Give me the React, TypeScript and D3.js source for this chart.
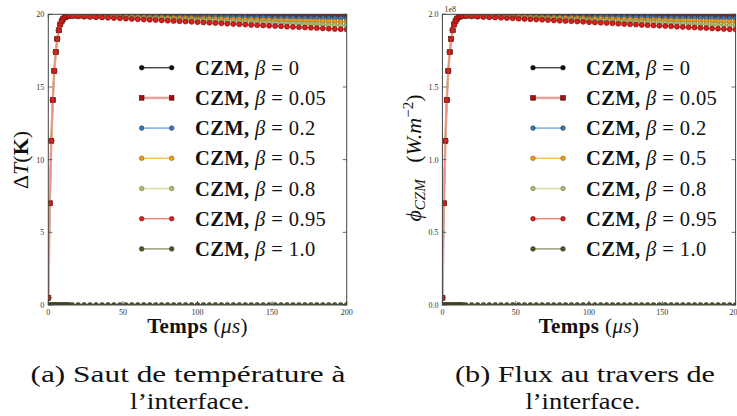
import React from "react";
import * as d3 from "d3";

// ---------- data ----------
const RISE_TIMES = [0, 1, 2, 3, 4, 5, 6, 7, 8, 9, 10, 11, 12, 13, 14];
const DECAY_TIMES = d3.range(16, 201, 4); // 16, 20, ..., 200

// common rising part of ΔT (K)
const RISE = [0.5, 7.0, 11.3, 14.1, 16.1, 17.4, 18.3, 18.9, 19.3, 19.55, 19.7, 19.8, 19.85, 19.88, 19.9];
const RISE_ZERO = [0, 0, 0, 0, 0, 0, 0, 0, 0, 0, 0, 0, 0, 0, 0];

const DECAY_B0 = [
  19.96, 19.96, 19.96, 19.96, 19.96, 19.96, 19.96, 19.96, 19.96, 19.96,
  19.96, 19.96, 19.96, 19.96, 19.96, 19.96, 19.96, 19.96, 19.96, 19.96,
  19.96, 19.96, 19.96, 19.96, 19.96, 19.96, 19.96, 19.96, 19.96, 19.96,
  19.96, 19.96, 19.96, 19.96, 19.96, 19.96, 19.96, 19.96, 19.96, 19.96,
  19.96, 19.96, 19.96, 19.96, 19.96, 19.96, 19.96,
];
const DECAY_B005 = [
  19.90, 19.90, 19.90, 19.90, 19.90, 19.90, 19.90, 19.90, 19.90, 19.90,
  19.90, 19.90, 19.89, 19.89, 19.89, 19.89, 19.89, 19.89, 19.89, 19.89,
  19.89, 19.89, 19.89, 19.89, 19.89, 19.89, 19.89, 19.89, 19.89, 19.89,
  19.89, 19.89, 19.89, 19.89, 19.89, 19.88, 19.88, 19.88, 19.88, 19.88,
  19.88, 19.88, 19.88, 19.88, 19.88, 19.88, 19.88,
];
const DECAY_B02 = [
  19.90, 19.90, 19.89, 19.89, 19.88, 19.88, 19.88, 19.87, 19.87, 19.87,
  19.86, 19.86, 19.85, 19.85, 19.85, 19.84, 19.84, 19.83, 19.83, 19.83,
  19.82, 19.82, 19.81, 19.81, 19.81, 19.80, 19.80, 19.79, 19.79, 19.79,
  19.78, 19.78, 19.78, 19.77, 19.77, 19.76, 19.76, 19.76, 19.75, 19.75,
  19.74, 19.74, 19.74, 19.73, 19.73, 19.72, 19.72,
];
const DECAY_B05 = [
  19.89, 19.88, 19.87, 19.86, 19.85, 19.85, 19.84, 19.83, 19.82, 19.81,
  19.80, 19.79, 19.78, 19.77, 19.77, 19.76, 19.75, 19.74, 19.73, 19.72,
  19.71, 19.70, 19.69, 19.69, 19.68, 19.67, 19.66, 19.65, 19.64, 19.63,
  19.62, 19.61, 19.61, 19.60, 19.59, 19.58, 19.57, 19.56, 19.55, 19.54,
  19.53, 19.53, 19.52, 19.51, 19.50, 19.49, 19.48,
];
const DECAY_B08 = [
  19.88, 19.87, 19.85, 19.84, 19.82, 19.81, 19.80, 19.78, 19.77, 19.76,
  19.74, 19.73, 19.71, 19.70, 19.69, 19.67, 19.66, 19.64, 19.63, 19.62,
  19.60, 19.59, 19.57, 19.56, 19.55, 19.53, 19.52, 19.50, 19.49, 19.48,
  19.46, 19.45, 19.44, 19.42, 19.41, 19.39, 19.38, 19.37, 19.35, 19.34,
  19.32, 19.31, 19.30, 19.28, 19.27, 19.25, 19.24,
];
const DECAY_B095 = [
  19.88, 19.86, 19.84, 19.82, 19.80, 19.78, 19.76, 19.74, 19.72, 19.70,
  19.68, 19.66, 19.64, 19.62, 19.60, 19.58, 19.56, 19.54, 19.52, 19.50,
  19.48, 19.46, 19.44, 19.42, 19.40, 19.38, 19.35, 19.33, 19.31, 19.29,
  19.27, 19.25, 19.23, 19.21, 19.19, 19.17, 19.15, 19.13, 19.11, 19.09,
  19.07, 19.05, 19.03, 19.01, 18.99, 18.97, 18.95,
];
const DECAY_B1 = [
  0, 0, 0, 0, 0, 0, 0, 0, 0, 0, 0, 0, 0, 0, 0, 0, 0, 0, 0, 0, 0, 0, 0, 0,
  0, 0, 0, 0, 0, 0, 0, 0, 0, 0, 0, 0, 0, 0, 0, 0, 0, 0, 0, 0, 0, 0, 0,
];

const BETA_LABELS = ["0", "0.05", "0.2", "0.5", "0.8", "0.95", "1.0"];
const X_TICKS = [0, 50, 100, 150, 200];
const DT_TICKS = [0, 5, 10, 15, 20];
const FLUX_TICKS = [0, 0.5e8, 1.0e8, 1.5e8, 2.0e8];
const H_CZM = 1e7; // flux = h * ΔT  (W.m^-2 per K)

// ---------- styles ----------
const STYLES = [
  { marker: "circle", fill: "#111111", edge: "#000000", line: "#4a4a4a", lw: 1.5 },
  { marker: "square", fill: "#a01010", edge: "#4a0000", line: "#e8a3a3", lw: 2.5 },
  { marker: "circle", fill: "#3a75b0", edge: "#1c3f66", line: "#7aaee0", lw: 1.5 },
  { marker: "circle", fill: "#ef9a1e", edge: "#9a5e00", line: "#ffc44d", lw: 1.5 },
  { marker: "circle", fill: "#a9ba6e", edge: "#6f7d40", line: "#d3e3a5", lw: 1.5 },
  { marker: "circle", fill: "#d42121", edge: "#7a0000", line: "#ef8a80", lw: 1.5 },
  { marker: "circle", fill: "#4f5a2a", edge: "#2c3315", line: "#9a9c7a", lw: 1.5 },
];

const TIMES = RISE_TIMES.concat(DECAY_TIMES);
const DT_SERIES = [
  RISE.concat(DECAY_B0),
  RISE.concat(DECAY_B005),
  RISE.concat(DECAY_B02),
  RISE.concat(DECAY_B05),
  RISE.concat(DECAY_B08),
  RISE.concat(DECAY_B095),
  RISE_ZERO.concat(DECAY_B1),
];

const W = 737;
const H = 416;
const Y_TOP = 14.3;
const Y_BOT = 305;
const FONT = "'Liberation Serif', 'DejaVu Serif', serif";

function Marker({ kind, x, y, s, size }: any) {
  if (kind === "square") {
    return (
      <rect x={x - size / 2} y={y - size / 2} width={size} height={size}
        fill={s.fill} stroke={s.edge} strokeWidth={0.6} />
    );
  }
  return <circle cx={x} cy={y} r={size / 2} fill={s.fill} stroke={s.edge} strokeWidth={0.6} />;
}

function Panel({ id, x0, x1, yMax, yTicks, yFmt, scale, legendLineX, legendTextX, offsetText }: any) {
  const xs = d3.scaleLinear().domain([0, 200]).range([x0, x1]);
  const ys = d3.scaleLinear().domain([0, yMax]).range([Y_BOT, Y_TOP]);
  const line = d3.line<[number, number]>().x((d) => xs(d[0])).y((d) => ys(d[1]));
  const tickLen = 4;
  const spine = "#444";
  const rows = BETA_LABELS.map((_, i) => 67.7 + i * 30.2);
  return (
    <g>
      <defs>
        <clipPath id={id}>
          <rect x={x0} y={Y_TOP} width={x1 - x0} height={Y_BOT - Y_TOP} />
        </clipPath>
      </defs>
      <g clipPath={`url(#${id})`}>
        {DT_SERIES.map((vals, si) => {
          const pts: [number, number][] = TIMES.map((t, i) => [t, vals[i] * scale]);
          const s = STYLES[si];
          return (
            <g key={si}>
              <path d={line(pts) || ""} fill="none" stroke={s.line} strokeWidth={s.lw} />
              {pts.map((p, i) => (
                <Marker key={i} kind={s.marker} x={xs(p[0])} y={ys(p[1])} s={s} size={s.marker === "square" ? 5 : 5} />
              ))}
            </g>
          );
        })}
      </g>
      {/* frame */}
      <rect x={x0} y={Y_TOP} width={x1 - x0} height={Y_BOT - Y_TOP} fill="none" stroke={spine} strokeWidth={1} />
      {/* ticks */}
      {X_TICKS.map((t) => (
        <g key={"xt" + t}>
          <line x1={xs(t)} x2={xs(t)} y1={Y_BOT} y2={Y_BOT - tickLen} stroke={spine} strokeWidth={0.8} />
          <line x1={xs(t)} x2={xs(t)} y1={Y_TOP} y2={Y_TOP + tickLen} stroke={spine} strokeWidth={0.8} />
          <text x={xs(t)} y={Y_BOT + 10} textAnchor="middle" fontSize={8} fontFamily={FONT} fill="#333">{t}</text>
        </g>
      ))}
      {yTicks.map((v: number) => (
        <g key={"yt" + v}>
          <line x1={x0} x2={x0 + tickLen} y1={ys(v)} y2={ys(v)} stroke={spine} strokeWidth={0.8} />
          <line x1={x1} x2={x1 - tickLen} y1={ys(v)} y2={ys(v)} stroke={spine} strokeWidth={0.8} />
          <text x={x0 - 4} y={ys(v) + 3} textAnchor="end" fontSize={8} fontFamily={FONT} fill="#333">{yFmt(v)}</text>
        </g>
      ))}
      {offsetText && (
        <text x={x0 + 2} y={12} fontSize={8} fontFamily={FONT} fill="#333">{offsetText}</text>
      )}
      {/* legend */}
      {BETA_LABELS.map((lab, i) => {
        const s = STYLES[i];
        const y = rows[i];
        return (
          <g key={"lg" + i}>
            <line x1={legendLineX} x2={legendLineX + 30} y1={y} y2={y} stroke={s.line} strokeWidth={s.lw} />
            <Marker kind={s.marker} x={legendLineX} y={y} s={s} size={4.6} />
            <Marker kind={s.marker} x={legendLineX + 30} y={y} s={s} size={4.6} />
            <text x={legendTextX} y={y + 7} fontSize={20.5} fontFamily={FONT} fill="#111"
              letterSpacing={0.4} style={{ whiteSpace: "pre" }}>
              <tspan fontWeight="bold">CZM,</tspan>
              <tspan> </tspan>
              <tspan fontStyle="italic">β</tspan>
              <tspan>{" = " + lab}</tspan>
            </text>
          </g>
        );
      })}
      {/* x label */}
      <text x={(x0 + x1) / 2} y={333} textAnchor="middle" fontSize={21} fontFamily={FONT} fill="#111"
        letterSpacing={0.4} style={{ whiteSpace: "pre" }}>
        <tspan fontWeight="bold">Temps</tspan>
        <tspan>{" ("}</tspan>
        <tspan fontStyle="italic">μs</tspan>
        <tspan>)</tspan>
      </text>
    </g>
  );
}

export default function App() {
  return (
    <svg width={W} height={H} viewBox={`0 0 ${W} ${H}`}
      style={{ position: "absolute", left: 0, top: 0, background: "#fff" }}>
      <rect width={W} height={H} fill="#fff" />
      <Panel id="clipA" x0={48.3} x1={346.7} yMax={20} yTicks={DT_TICKS} yFmt={(v: number) => String(v)}
        scale={1} legendLineX={141.7} legendTextX={195} />
      <Panel id="clipB" x0={442.4} x1={735.6} yMax={2e8} yTicks={FLUX_TICKS}
        yFmt={(v: number) => (v / 1e8).toFixed(1)} scale={H_CZM} legendLineX={533} legendTextX={586} offsetText="1e8" />
      {/* y labels */}
      <text transform="translate(28,160) rotate(-90)" textAnchor="middle" fontSize={22} fontFamily={FONT} fill="#111">
        <tspan>Δ</tspan>
        <tspan fontStyle="italic">T</tspan>
        <tspan>(</tspan>
        <tspan fontWeight="bold">K</tspan>
        <tspan>)</tspan>
      </text>
      <text transform="translate(421,158) rotate(-90)" textAnchor="middle" fontSize={22} fontFamily={FONT} fill="#111" style={{ whiteSpace: "pre" }}>
        <tspan fontStyle="italic">ϕ</tspan>
        <tspan fontStyle="italic" fontSize={15} dy={4}>CZM</tspan>
        <tspan dy={-4}>{"   ("}</tspan>
        <tspan fontStyle="italic">W.m</tspan>
        <tspan fontSize={15} dy={-8}>−2</tspan>
        <tspan dy={8}>)</tspan>
      </text>
      {/* captions */}
      <text x={188} y={382} textAnchor="middle" fontSize={23} fontFamily={FONT} fill="#111" textLength={315} lengthAdjust="spacingAndGlyphs">(a) Saut de température à</text>
      <text x={190} y={409} textAnchor="middle" fontSize={23} fontFamily={FONT} fill="#111" textLength={120} lengthAdjust="spacingAndGlyphs">l’interface.</text>
      <text x={585} y={382} textAnchor="middle" fontSize={23} fontFamily={FONT} fill="#111" textLength={260} lengthAdjust="spacingAndGlyphs">(b) Flux au travers de</text>
      <text x={583} y={409} textAnchor="middle" fontSize={23} fontFamily={FONT} fill="#111" textLength={115} lengthAdjust="spacingAndGlyphs">l’interface.</text>
    </svg>
  );
}
